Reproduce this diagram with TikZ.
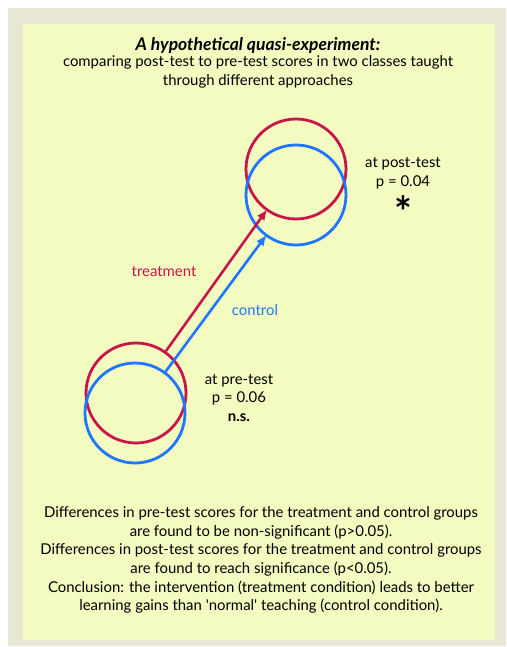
\documentclass[tikz,border=0pt]{standalone}
\usepackage{fontspec}
\setmainfont{Lato}
\usetikzlibrary{arrows.meta}
\definecolor{frame}{HTML}{E8E6D4}
\definecolor{panel}{HTML}{F3FBC0}
\definecolor{treat}{HTML}{C8154A}
\definecolor{ctrl}{HTML}{1E78FF}
\begin{document}
\begin{tikzpicture}[x=1pt,y=-1pt,font=\fontsize{14.9}{18.7}\selectfont,
  grp/.style={circle,draw=#1,line width=2.8pt,minimum size=100pt,inner sep=0pt},
  gain/.style={draw=#1,line width=2.6pt,-{Latex[length=11pt,width=9pt]},shorten >=-2pt},
  note/.style={align=center,inner sep=0pt}]
\useasboundingbox(0,0)rectangle(506,647);
\fill[frame](8,8)rectangle(506,646);
\fill[panel](23,24)rectangle(495,640);
% heading
\node[note,font=\fontsize{17.5}{19}\selectfont\bfseries\itshape](head)at(258,45){A hypothetical quasi-experiment:};
\node[note](sub)at(258,72){comparing post-test to pre-test scores in two classes taught\\through different approaches};
% groups before and after
\node[grp=treat](preT)at(136,393){};
\node[grp=ctrl](preC)at(135,413){};
\node[grp=treat](postT)at(296,169){};
\node[grp=ctrl](postC)at(296,195){};
\draw[gain=treat](preT)--(postT);
\draw[gain=ctrl](preC)--(postC);
\node[text=treat](lT)at(164,272){treatment};
\node[text=ctrl](lC)at(255,310){control};
\node[note](post)at(403,173){at post-test\\p = 0.04};
\node[font=\fontsize{42}{42}\selectfont\bfseries](star)at(403,212){*};
\node[note](pre)at(239,398){at pre-test\\p = 0.06\\\textbf{n.s.}};
% findings
\node[note](sum)at(261,560){Differences in pre-test scores for the treatment and control groups\\are found to be non-significant (p>0.05).\\Differences in post-test scores for the treatment and control groups\\are found to reach significance (p<0.05).\\Conclusion: the intervention (treatment condition) leads to better\\learning gains than \textquotesingle normal\textquotesingle\ teaching (control condition).};
\end{tikzpicture}
\end{document}
